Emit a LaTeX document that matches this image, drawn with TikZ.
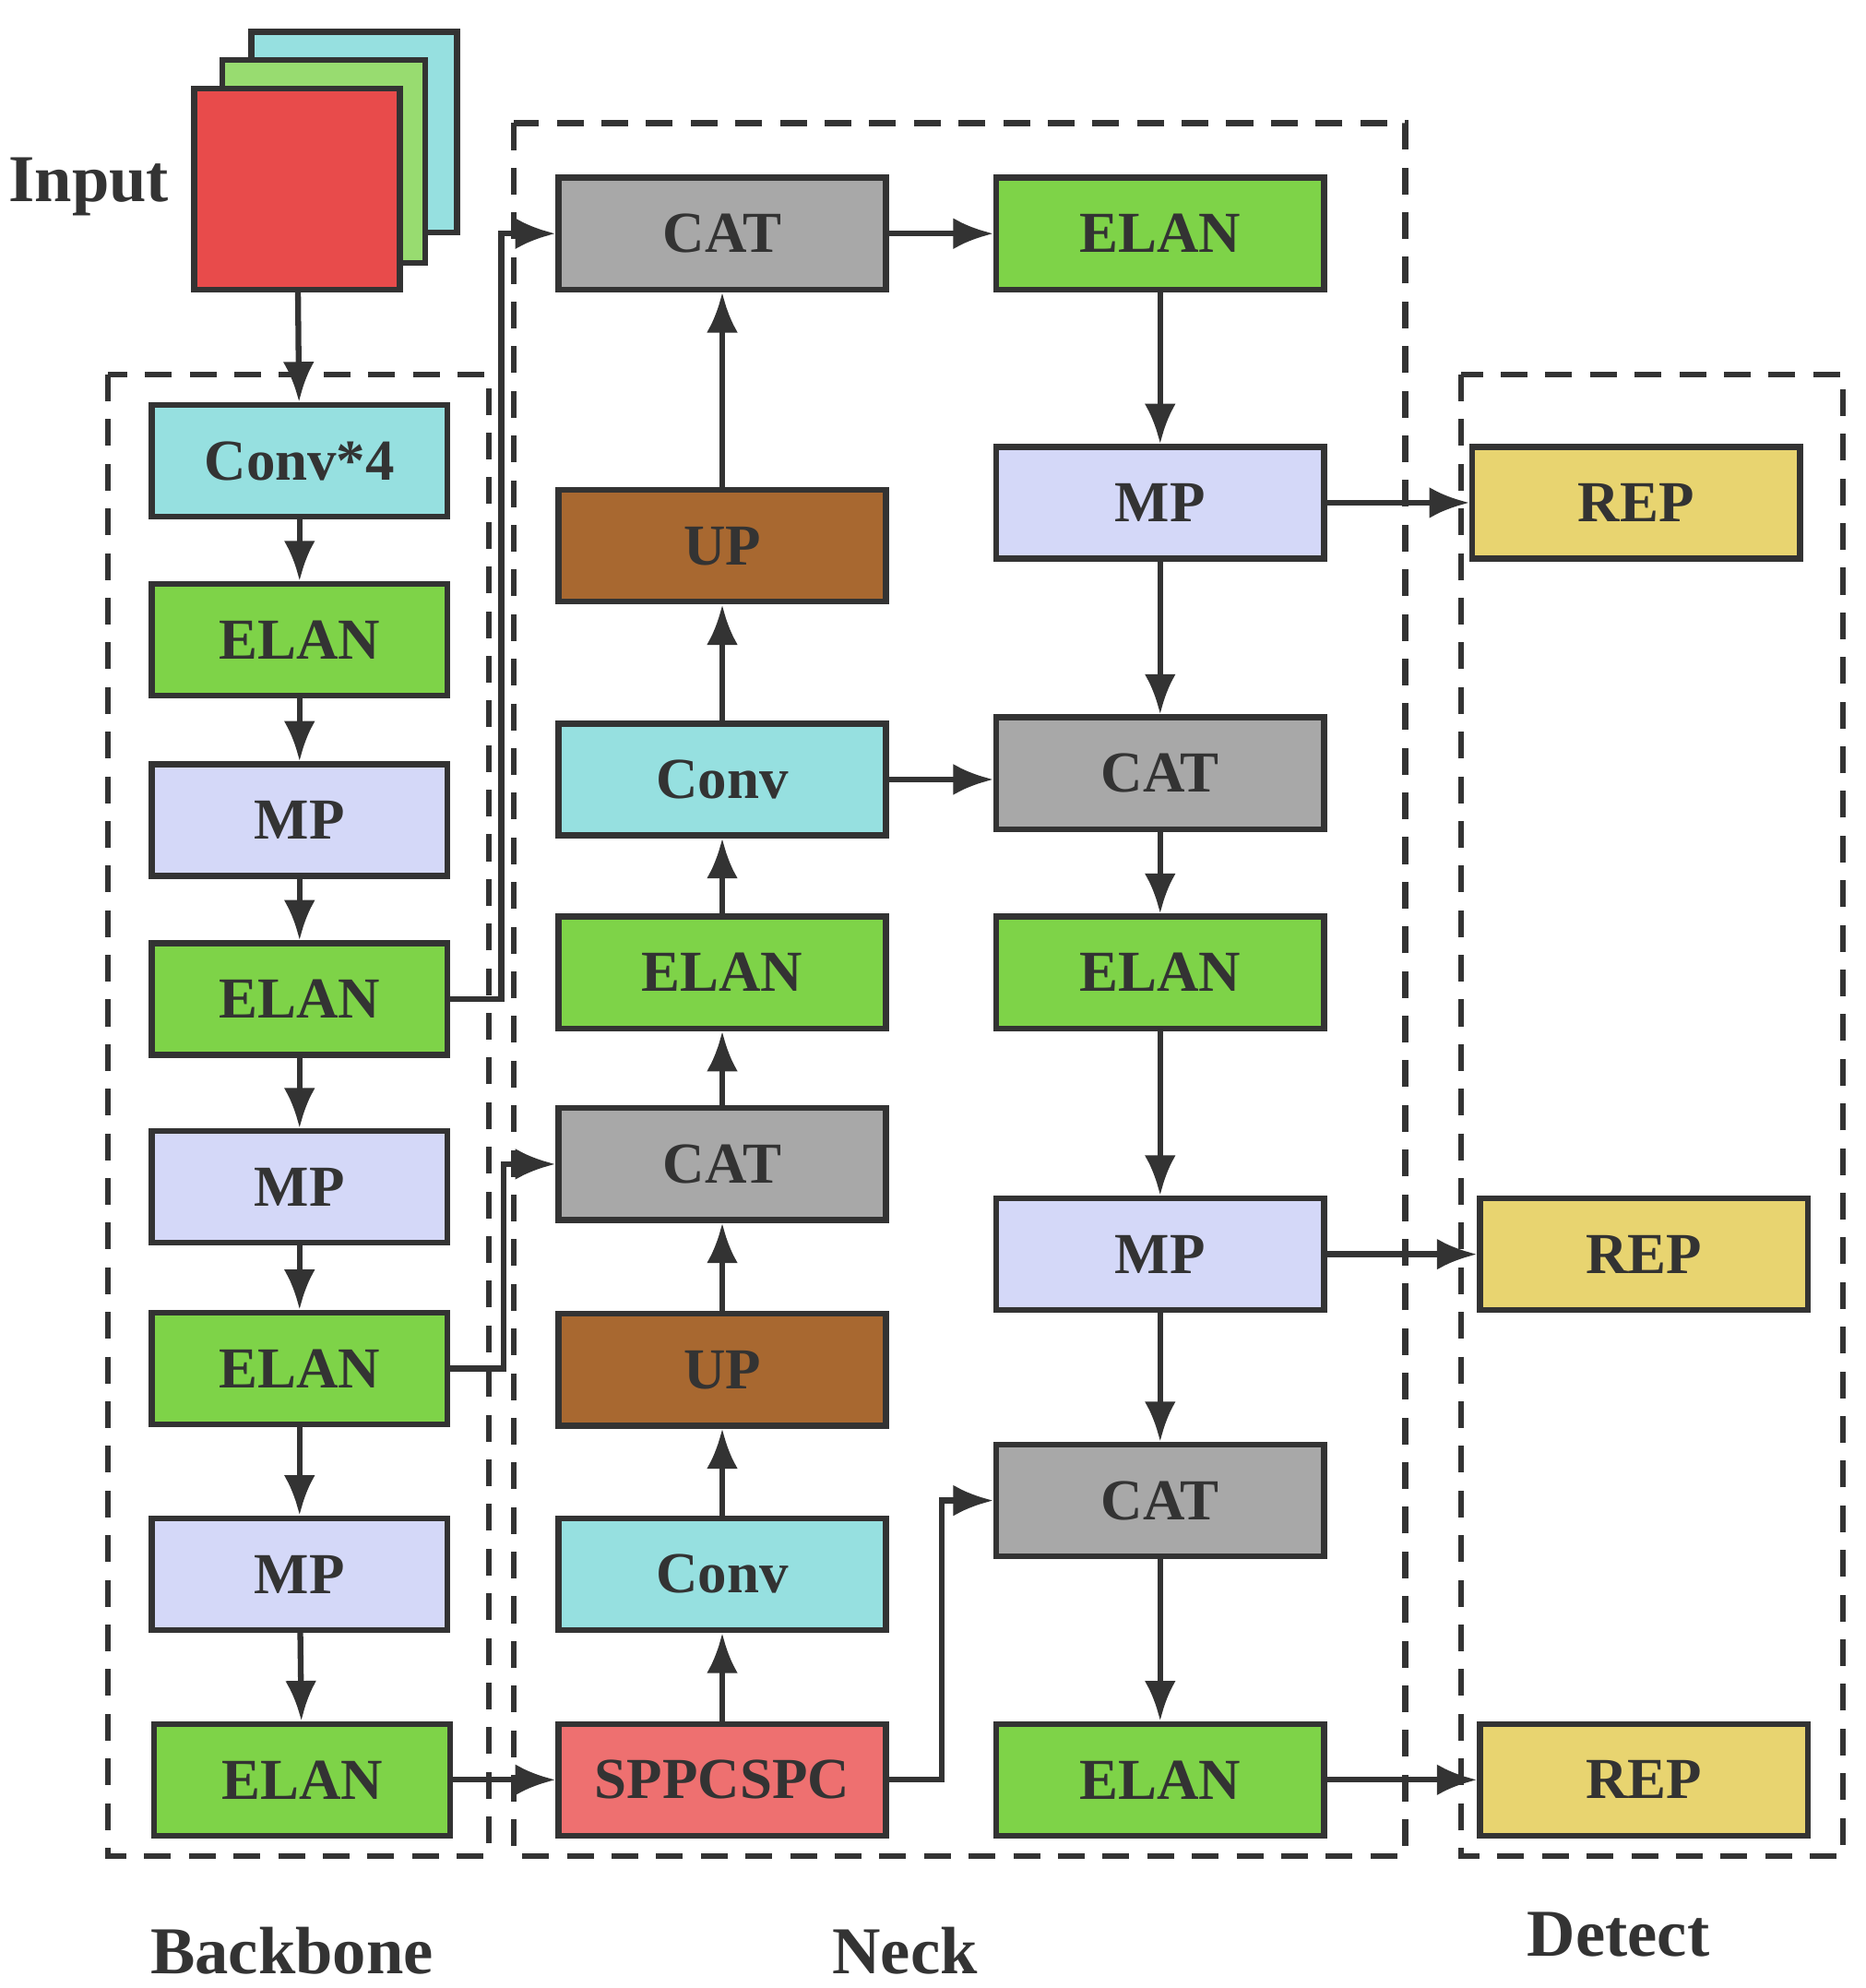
\documentclass[tikz,border=0pt]{standalone}
\usepackage{fontspec}
\setmainfont{Liberation Serif}
\usetikzlibrary{arrows.meta}
\definecolor{ccyan}{HTML}{96E0E0}
\definecolor{cgreen}{HTML}{7ED348}
\definecolor{clav}{HTML}{D4D8F8}
\definecolor{cgray}{HTML}{A8A8A8}
\definecolor{cbrown}{HTML}{A86830}
\definecolor{csalmon}{HTML}{EE7070}
\definecolor{cyellow}{HTML}{E8D470}
\definecolor{cred}{HTML}{E84B4B}
\definecolor{clg}{HTML}{98DC70}
\definecolor{ctxt}{HTML}{333333}
\begin{document}
\begin{tikzpicture}[x=0.01cm,y=-0.01cm,
  box/.style={draw=ctxt,line width=1.3pt,minimum height=0.88cm,inner sep=0pt,text=ctxt,font=\fontsize{13}{15}\selectfont\bfseries},
  bb/.style={box,minimum width=2.33cm},
  nk/.style={box,minimum width=2.58cm},
  grp/.style={draw=ctxt,line width=1.3pt,dash pattern=on 6pt off 4pt},
  arr/.style={draw=ctxt,line width=1.3pt,-{Latex[length=9pt,width=7pt]}},
  lab/.style={text=ctxt,font=\fontsize{15}{18}\selectfont\bfseries}]
\useasboundingbox[fill=white] (0,0) rectangle (1470,1566);
% input stack
\draw[ctxt,line width=1.3pt,fill=ccyan] (198,25) rectangle (360,183);
\draw[ctxt,line width=1.3pt,fill=clg] (175,47) rectangle (335,207);
\node[draw=ctxt,line width=1.3pt,fill=cred,minimum width=1.62cm,minimum height=1.58cm,inner sep=0pt] (in) at (234,149) {};
\node[lab] at (70,147) {Input};
% dashed groups
\draw[grp] (85,295) rectangle (385,1462);
\draw[grp] (405,97) rectangle (1107,1462);
\draw[grp] (1151,295) rectangle (1452,1462);
\node[lab] at (230,1537) {Backbone};
\node[lab] at (713,1537) {Neck};
\node[lab] at (1275,1524) {Detect};
% backbone
\node[bb,fill=ccyan] (b1) at (236,363) {Conv*4};
\node[bb,fill=cgreen] (b2) at (236,504) {ELAN};
\node[bb,fill=clav] (b3) at (236,646) {MP};
\node[bb,fill=cgreen] (b4) at (236,787) {ELAN};
\node[bb,fill=clav] (b5) at (236,935) {MP};
\node[bb,fill=cgreen] (b6) at (236,1078) {ELAN};
\node[bb,fill=clav] (b7) at (236,1240) {MP};
\node[bb,fill=cgreen] (b8) at (238,1402) {ELAN};
% neck col1
\node[nk,fill=cgray] (n1) at (569,184) {CAT};
\node[nk,fill=cbrown] (n2) at (569,430) {UP};
\node[nk,fill=ccyan] (n3) at (569,614) {Conv};
\node[nk,fill=cgreen] (n4) at (569,766) {ELAN};
\node[nk,fill=cgray] (n5) at (569,917) {CAT};
\node[nk,fill=cbrown] (n6) at (569,1079) {UP};
\node[nk,fill=ccyan] (n7) at (569,1240) {Conv};
\node[nk,fill=csalmon] (n8) at (569,1402) {SPPCSPC};
% neck col2
\node[nk,fill=cgreen] (m1) at (914,184) {ELAN};
\node[nk,fill=clav] (m2) at (914,396) {MP};
\node[nk,fill=cgray] (m3) at (914,609) {CAT};
\node[nk,fill=cgreen] (m4) at (914,766) {ELAN};
\node[nk,fill=clav] (m5) at (914,988) {MP};
\node[nk,fill=cgray] (m6) at (914,1182) {CAT};
\node[nk,fill=cgreen] (m7) at (914,1402) {ELAN};
% detect
\node[nk,fill=cyellow] (r1) at (1289,396) {REP};
\node[nk,fill=cyellow] (r2) at (1295,988) {REP};
\node[nk,fill=cyellow] (r3) at (1295,1402) {REP};
% edges backbone
\draw[arr] (in) -- (b1);
\draw[arr] (b1) -- (b2);
\draw[arr] (b2) -- (b3);
\draw[arr] (b3) -- (b4);
\draw[arr] (b4) -- (b5);
\draw[arr] (b5) -- (b6);
\draw[arr] (b6) -- (b7);
\draw[arr] (b7) -- (b8);
\draw[arr] (b4.east) -- (395,787) -- (395,184) -- (n1.west);
\draw[arr] (b6.east) -- (397,1078) -- (397,917) -- (n5.west);
\draw[arr] (b8) -- (n8);
% neck col1 upward
\draw[arr] (n8) -- (n7);
\draw[arr] (n7) -- (n6);
\draw[arr] (n6) -- (n5);
\draw[arr] (n5) -- (n4);
\draw[arr] (n4) -- (n3);
\draw[arr] (n3) -- (n2);
\draw[arr] (n2) -- (n1);
\draw[arr] (n1) -- (m1);
\draw[arr] (n3.east) -- (m3.west|-n3.east);
\draw[arr] (n8.east) -- (742,1402) -- (742,1182) -- (m6.west);
% col2 downward
\draw[arr] (m1) -- (m2);
\draw[arr] (m2) -- (m3);
\draw[arr] (m3) -- (m4);
\draw[arr] (m4) -- (m5);
\draw[arr] (m5) -- (m6);
\draw[arr] (m6) -- (m7);
\draw[arr] (m2) -- (r1);
\draw[arr] (m5) -- (r2);
\draw[arr] (m7) -- (r3);
\end{tikzpicture}
\end{document}
